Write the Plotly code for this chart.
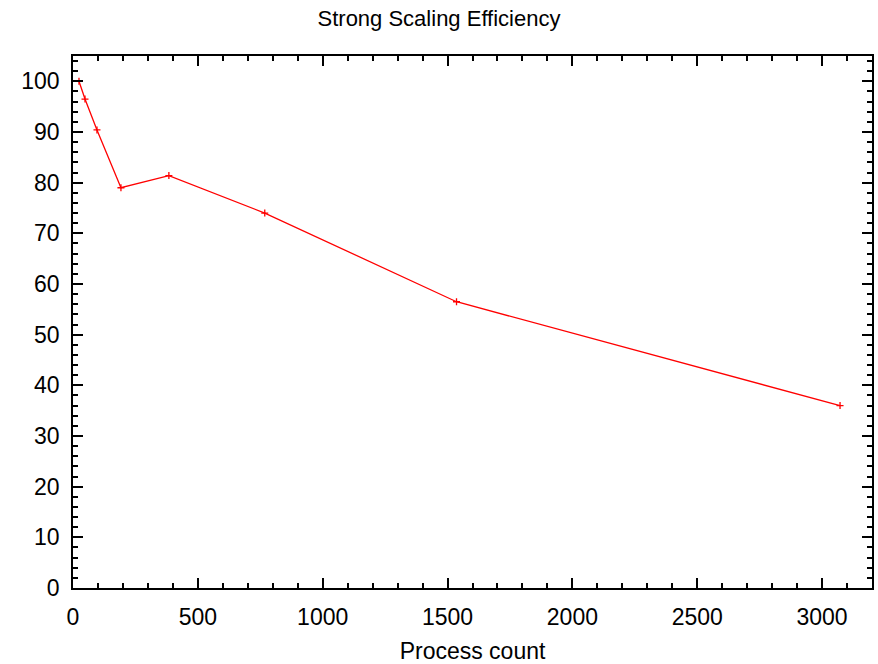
import plotly.graph_objects as go

process_count = [24, 48, 96, 192, 384, 768, 1536, 3072]
efficiency = [100.0, 96.5, 90.4, 79.0, 81.4, 74.0, 56.5, 36.0]

fig = go.Figure()
fig.add_trace(go.Scatter(
    x=process_count, y=efficiency, mode="lines+markers",
    line=dict(color="#ff0000", width=1.3),
    marker=dict(symbol="cross-thin", size=5, color="#ff0000",
                line=dict(color="#ff0000", width=1.3)),
    showlegend=False,
))

font = dict(family="Liberation Sans, Arial, Helvetica, sans-serif", color="black")
axis_common = dict(
    showgrid=False, zeroline=False, showline=True, linecolor="black", linewidth=1.5,
    mirror="allticks", ticks="inside", ticklen=10, tickwidth=1.5, tickcolor="black",
    tickfont=dict(size=23, **font),
)
fig.update_xaxes(range=[0, 3200], tick0=0, dtick=500,
                 minor=dict(dtick=100, ticks="inside", ticklen=5, tickwidth=1.5, tickcolor="black"),
                 title=dict(text="Process count", font=dict(size=23, **font), standoff=16),
                 ticklabelstandoff=8,
                 **axis_common)
fig.update_yaxes(range=[0, 105], tick0=0, dtick=10,
                 minor=dict(dtick=2, ticks="inside", ticklen=5, tickwidth=1.5, tickcolor="black"),
                 ticklabelstandoff=7,
                 **axis_common)
fig.update_layout(
    width=878, height=664,
    margin=dict(l=73, r=6, t=56, b=76, autoexpand=False),
    paper_bgcolor="white", plot_bgcolor="white",
    title=dict(text="Strong Scaling Efficiency", x=0.5, xanchor="center",
               y=1 - 18 / 664, yanchor="middle", font=dict(size=22, **font)),
)
fig.write_html("out.html", config={"displayModeBar": False},
               post_script="document.body.style.margin='0';document.body.style.overflow='hidden';")
